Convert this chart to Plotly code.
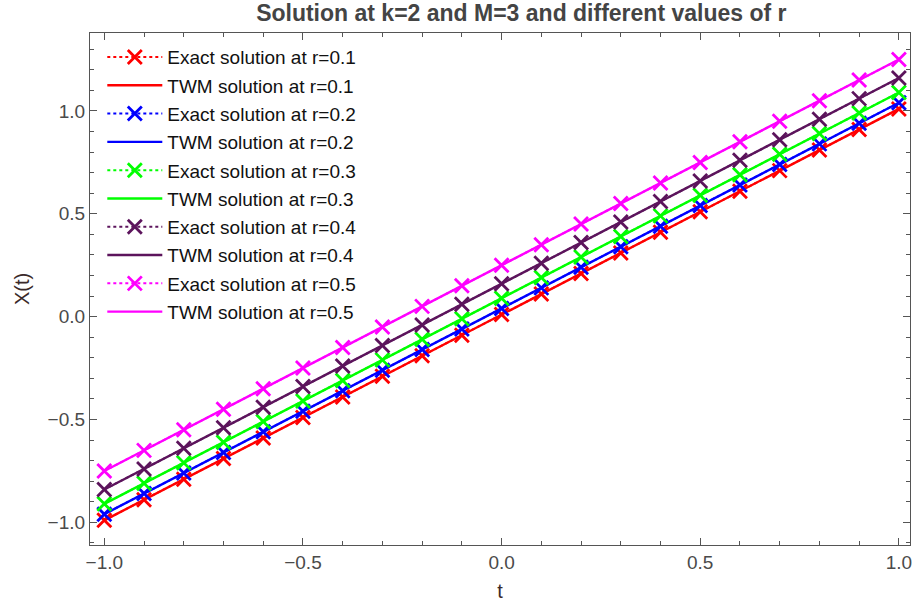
import plotly.graph_objects as go

# Sample points in t
t = [-1.0, -0.9, -0.8, -0.7, -0.6, -0.5, -0.4, -0.3, -0.2, -0.1, 0.0,
     0.1, 0.2, 0.3, 0.4, 0.5, 0.6, 0.7, 0.8, 0.9, 1.0]

# Solution values X(t) for each r
x_r01 = [-0.99, -0.89, -0.79, -0.69, -0.59, -0.49, -0.39, -0.29, -0.19, -0.09, 0.01,
         0.11, 0.21, 0.31, 0.41, 0.51, 0.61, 0.71, 0.81, 0.91, 1.01]
x_r02 = [-0.96, -0.86, -0.76, -0.66, -0.56, -0.46, -0.36, -0.26, -0.16, -0.06, 0.04,
         0.14, 0.24, 0.34, 0.44, 0.54, 0.64, 0.74, 0.84, 0.94, 1.04]
x_r03 = [-0.91, -0.81, -0.71, -0.61, -0.51, -0.41, -0.31, -0.21, -0.11, -0.01, 0.09,
         0.19, 0.29, 0.39, 0.49, 0.59, 0.69, 0.79, 0.89, 0.99, 1.09]
x_r04 = [-0.84, -0.74, -0.64, -0.54, -0.44, -0.34, -0.24, -0.14, -0.04, 0.06, 0.16,
         0.26, 0.36, 0.46, 0.56, 0.66, 0.76, 0.86, 0.96, 1.06, 1.16]
x_r05 = [-0.75, -0.65, -0.55, -0.45, -0.35, -0.25, -0.15, -0.05, 0.05, 0.15, 0.25,
         0.35, 0.45, 0.55, 0.65, 0.75, 0.85, 0.95, 1.05, 1.15, 1.25]

r_labels = ["0.1", "0.2", "0.3", "0.4", "0.5"]
series = [x_r01, x_r02, x_r03, x_r04, x_r05]
colors = ["#ff0000", "#0000ff", "#00ff00", "#5c145c", "#ff00ff"]

x_ticks = [-1.0, -0.5, 0.0, 0.5, 1.0]
y_ticks = [-1.0, -0.5, 0.0, 0.5, 1.0]

FONT = "Liberation Sans, Arial"

fig = go.Figure()

for i, (r, vals, col) in enumerate(zip(r_labels, series, colors)):
    fig.add_trace(go.Scatter(
        x=t, y=vals, mode="lines+markers",
        name=f"Exact solution at r={r}", legendgroup=f"e{i}",
        line=dict(color=col, width=2, dash="dot"),
        marker=dict(symbol="x-thin", size=14, line=dict(color=col, width=2.8)),
    ))
    fig.add_trace(go.Scatter(
        x=t, y=vals, mode="lines",
        name=f"TWM solution at r={r}", legendgroup=f"w{i}",
        line=dict(color=col, width=2.4),
    ))

axis_common = dict(
    showgrid=False, zeroline=False, showline=True, linecolor="#555555",
    linewidth=1.3, mirror="allticks", ticks="inside", ticklen=7,
    tickcolor="#555555", tickwidth=1.2, tickformat=".1f",
    ticklabeloverflow="allow",
    tickfont=dict(family=FONT, size=19, color="#4a4a4a"),
    minor=dict(dtick=0.1, ticks="inside", ticklen=4, tickcolor="#555555", tickwidth=1),
)

fig.update_layout(
    width=913, height=602,
    margin=dict(l=90, r=1, t=33, b=57),
    paper_bgcolor="white", plot_bgcolor="white",
    title=dict(text="<b>Solution at k=2 and M=3 and different values of r</b>",
               x=0.571, xanchor="center", y=0.978, yanchor="middle",
               font=dict(family=FONT, size=23, color="#444444")),
    xaxis=dict(axis_common, range=[-1.036, 1.028], tickvals=x_ticks,
               title=dict(text="t", standoff=14,
                          font=dict(family=FONT, size=20, color="#3a2a2a"))),
    yaxis=dict(axis_common, range=[-1.11, 1.379], tickvals=y_ticks,
               title=dict(text="X(t)", standoff=12,
                          font=dict(family=FONT, size=20, color="#3a2a2a"))),
    legend=dict(x=0.015, y=0.99, xanchor="left", yanchor="top",
                bgcolor="rgba(0,0,0,0)", itemwidth=55, tracegroupgap=0.6,
                font=dict(family=FONT, size=19, color="#111111")),
    showlegend=True,
)

fig.write_html("out.html")
